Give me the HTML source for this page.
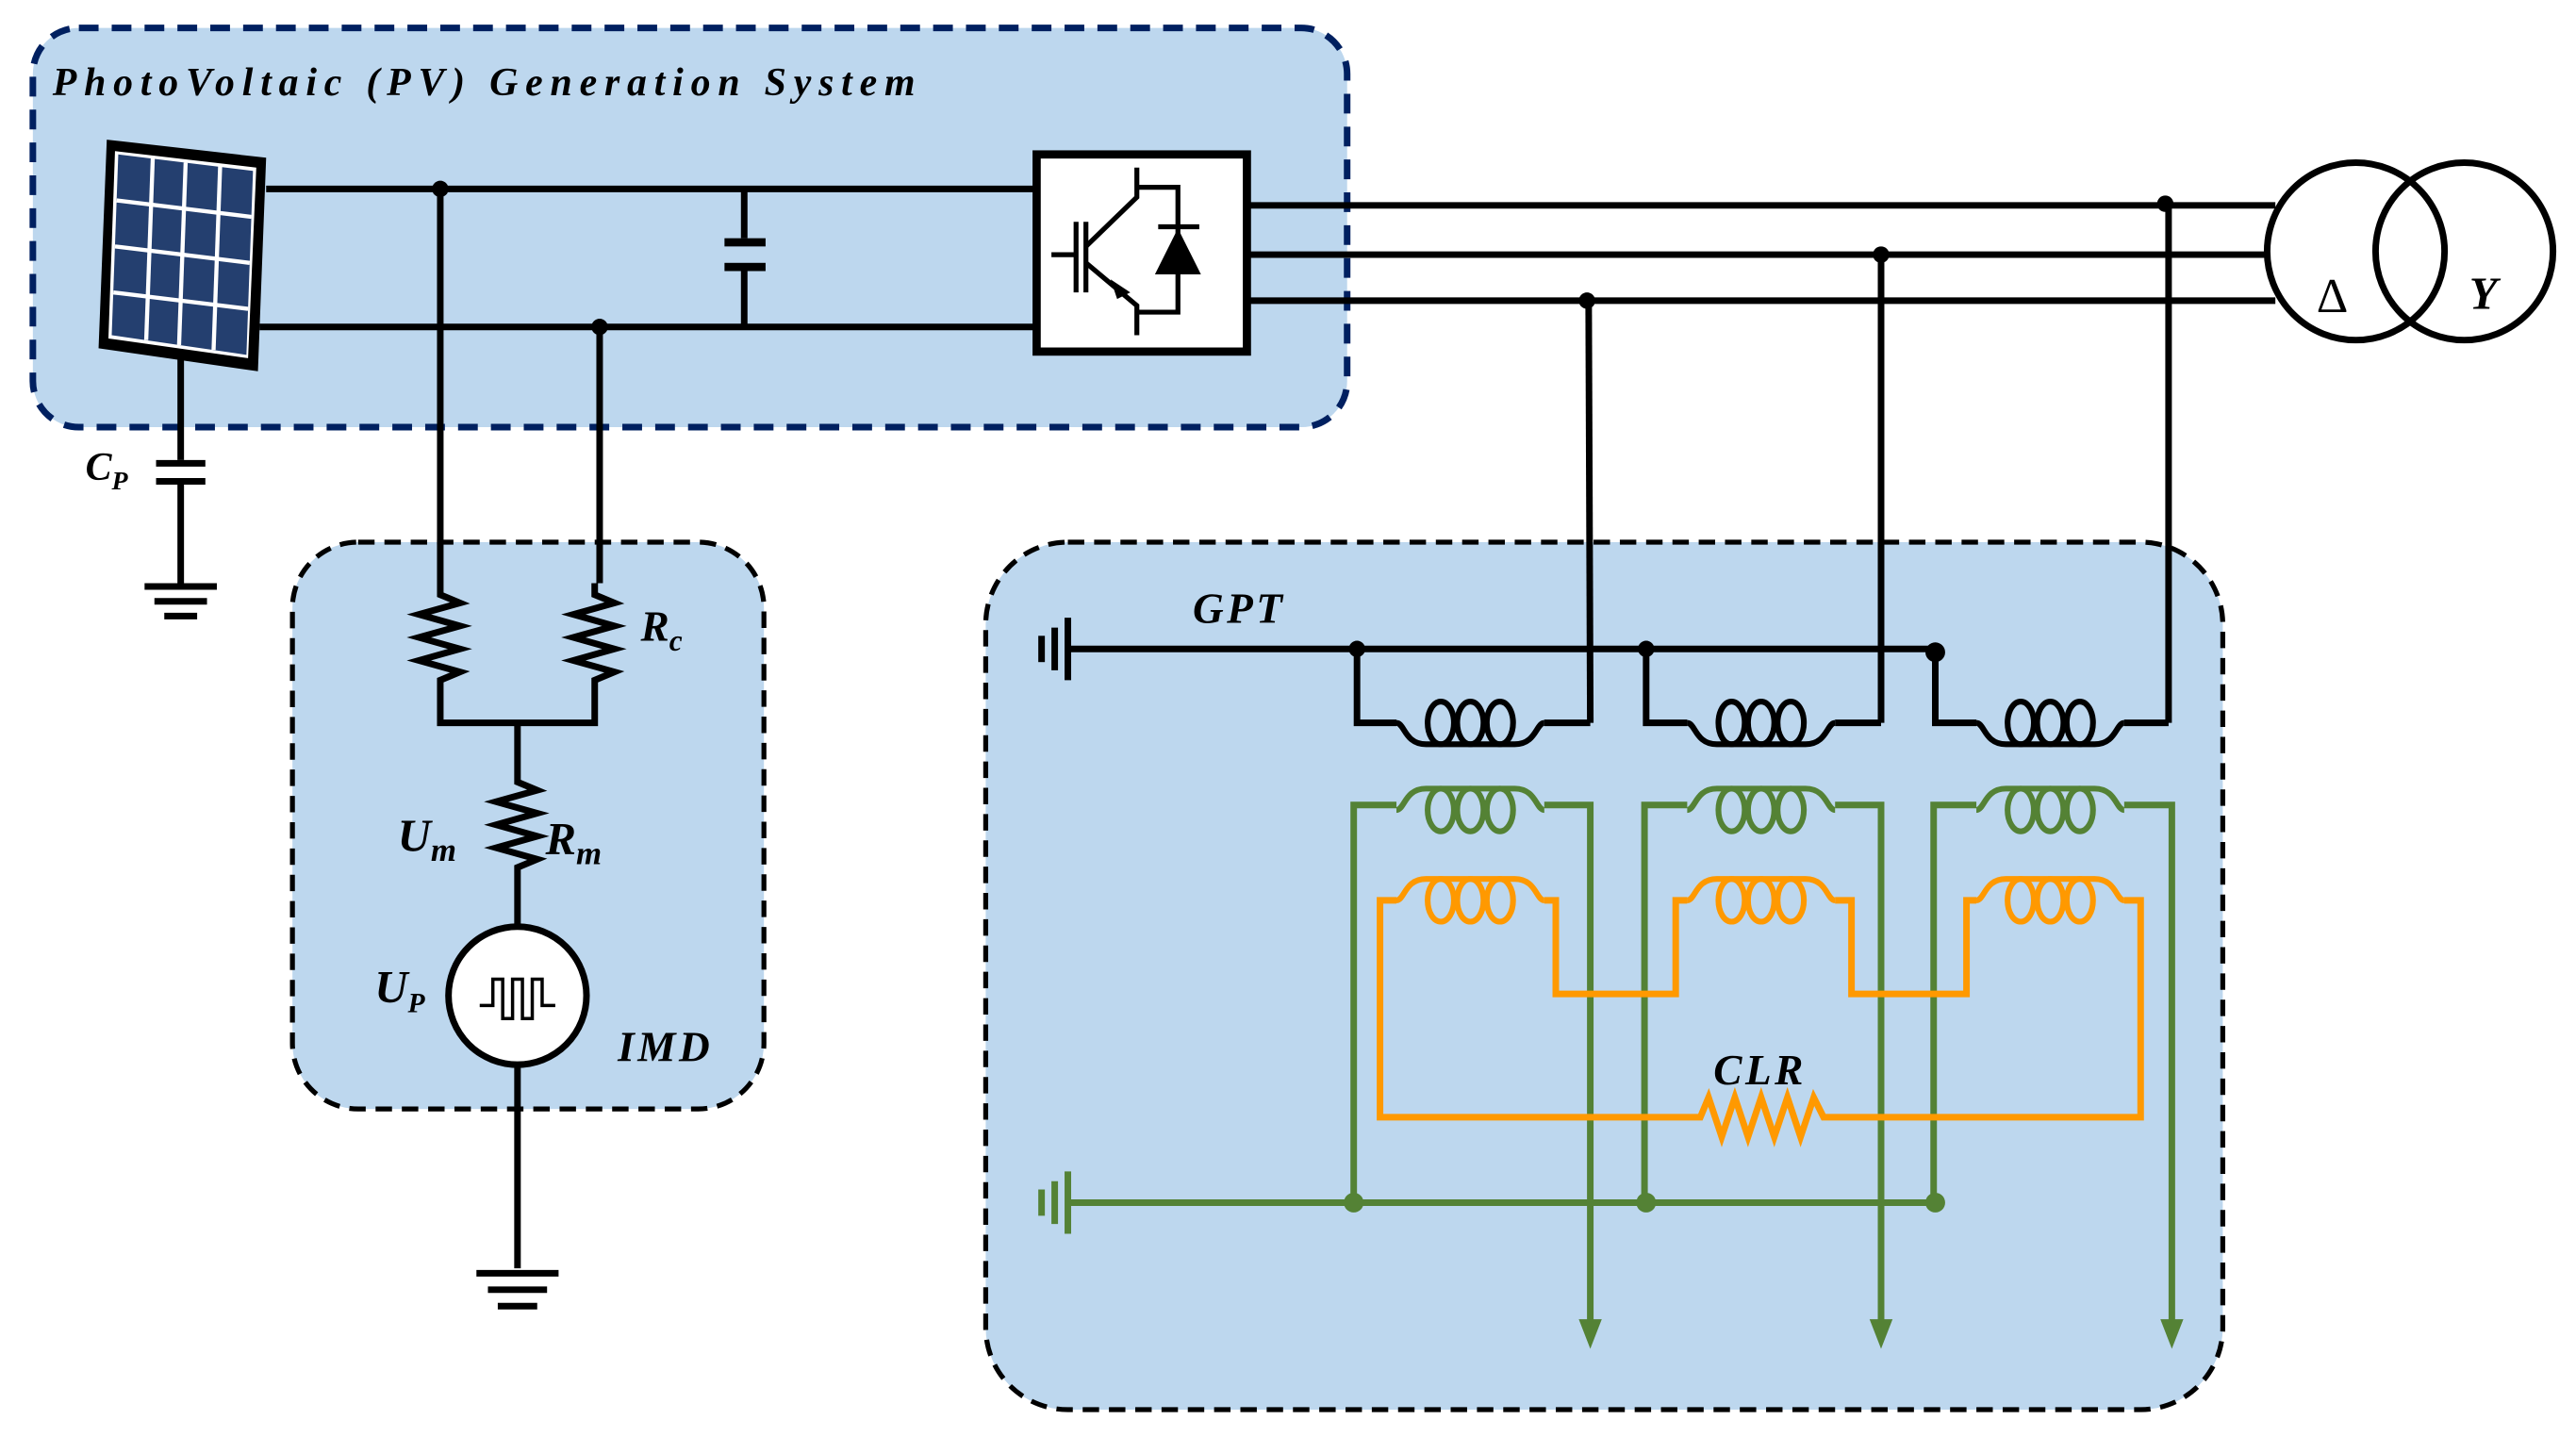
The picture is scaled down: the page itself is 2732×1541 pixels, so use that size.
<!DOCTYPE html>
<html><head><meta charset="utf-8"><style>html,body{margin:0;padding:0;background:#fff}svg{display:block}</style></head>
<body>
<svg width="2732" height="1541" viewBox="0 0 1568 884.4" preserveAspectRatio="none" xmlns="http://www.w3.org/2000/svg" font-family="'Liberation Serif', serif" font-style="italic" font-weight="bold">
<defs>
<g id="coilD">
<path d="M0,0 C5,0 5,13 18,13 L72,13 C85,13 85,0 90,0" fill="none"/>
<ellipse cx="27" cy="0" rx="8" ry="13"/><ellipse cx="45" cy="0" rx="8" ry="13"/><ellipse cx="63" cy="0" rx="8" ry="13"/>
</g>
<g id="coilU">
<path d="M0,0 C5,0 5,-13 18,-13 L72,-13 C85,-13 85,0 90,0" fill="none"/>
<ellipse cx="27" cy="0" rx="8" ry="13"/><ellipse cx="45" cy="0" rx="8" ry="13"/><ellipse cx="63" cy="0" rx="8" ry="13"/>
</g>
</defs>
<rect x="20" y="17" width="800" height="243" rx="28" fill="#bdd7ee" stroke="#002060" stroke-width="4" stroke-dasharray="12,8"/>
<rect x="178" y="330" width="287" height="345" rx="40" fill="#bdd7ee" stroke="#000" stroke-width="3" stroke-dasharray="10,6"/>
<rect x="600" y="330" width="753" height="528" rx="50" fill="#bdd7ee" stroke="#000" stroke-width="3" stroke-dasharray="10,6"/>
<text x="32" y="58" font-size="24" textLength="525" lengthAdjust="spacing">PhotoVoltaic (PV) Generation System</text>
<polygon points="65,85 162,96 157,226 60,212" fill="#000"/>
<polygon points="70,92 156,102 151,218 66,206" fill="#fff"/>
<polygon points="72,94 154,104 150,216 68,204" fill="#243f6f"/>
<g stroke="#fff" stroke-width="2.5">
<line x1="93" y1="96" x2="89" y2="207"/><line x1="113" y1="99" x2="109" y2="210"/><line x1="134" y1="101" x2="130" y2="213"/>
<line x1="71" y1="122" x2="153" y2="132"/><line x1="70" y1="150" x2="152" y2="160"/><line x1="69" y1="178" x2="151" y2="188"/>
</g>
<g stroke="#000" stroke-width="4" fill="none">
<line x1="162" y1="115" x2="630" y2="115"/><line x1="158" y1="199" x2="630" y2="199"/>
<line x1="268" y1="115" x2="268" y2="355"/><line x1="365" y1="199" x2="365" y2="355"/>
<line x1="453" y1="115" x2="453" y2="145"/><line x1="453" y1="165" x2="453" y2="199"/>
</g>
<rect x="441" y="145" width="25" height="5" fill="#000"/><rect x="441" y="160" width="25" height="5" fill="#000"/>
<circle cx="268" cy="115" r="5"/><circle cx="365" cy="199" r="5"/>
<rect x="631" y="94" width="128" height="120" fill="#fff" stroke="#000" stroke-width="5"/>
<g stroke="#000" stroke-width="3" fill="none">
<line x1="640" y1="155" x2="655" y2="155"/><line x1="655" y1="135" x2="655" y2="178"/><line x1="661" y1="135" x2="661" y2="178"/>
<path d="M692,102 L692,120 L661,150"/><path d="M661,160 L692,186 L692,204"/>
<path d="M692,114 L717,114 L717,190 L692,190"/>
<line x1="705" y1="138" x2="730" y2="138"/>
</g>
<polygon points="717,139 703,167 731,167" fill="#000"/>
<polygon points="676,170 688,178 680,182" fill="#000"/>
<g stroke="#000" stroke-width="4" fill="none">
<line x1="760" y1="125" x2="1385" y2="125"/><line x1="760" y1="155" x2="1380" y2="155"/><line x1="760" y1="183" x2="1385" y2="183"/>
<line x1="1320" y1="125" x2="1320" y2="440"/><line x1="1145" y1="155" x2="1145" y2="440"/><line x1="967" y1="183" x2="968" y2="440"/>
<circle cx="1434" cy="153" r="54" stroke-width="4"/><circle cx="1500" cy="153" r="54" stroke-width="4"/>
</g>
<circle cx="1318" cy="124" r="5"/><circle cx="1145" cy="155" r="5"/><circle cx="966" cy="183" r="5"/>
<text x="1410" y="190" font-size="30" font-style="normal" font-weight="normal">Δ</text>
<text x="1503" y="188" font-size="28">Y</text>
<g stroke="#000" stroke-width="4"><line x1="110" y1="218" x2="110" y2="280"/><line x1="110" y1="295" x2="110" y2="355"/>
<line x1="95" y1="282" x2="125" y2="282"/><line x1="95" y1="293" x2="125" y2="293"/>
<line x1="88" y1="357" x2="132" y2="357"/><line x1="94" y1="366" x2="126" y2="366"/><line x1="100" y1="375" x2="120" y2="375"/></g>
<text x="52" y="292" font-size="24">C<tspan font-size="16" dy="6">P</tspan></text>
<g stroke="#000" stroke-width="4" fill="none">
<path d="M268,355 L268,362 L280,367 L255,374 L280,381 L255,388 L280,395 L255,402 L280,409 L268,414 L268,440 L362,440 L362,414 L374,409 L349,402 L374,395 L349,388 L374,381 L349,374 L374,367 L362,362 L362,355"/>
<path d="M315,440 L315,476 L327,481 L302,488 L327,495 L302,502 L327,509 L302,516 L327,523 L315,528 L315,565"/>
<line x1="315" y1="647" x2="315" y2="772"/>
<line x1="290" y1="775" x2="340" y2="775"/><line x1="297" y1="785" x2="333" y2="785"/><line x1="303" y1="795" x2="327" y2="795"/>
</g>
<circle cx="315" cy="606" r="42" fill="#fff" stroke="#000" stroke-width="4"/>
<path d="M292,612 L300,612 L300,596 L306,596 L306,620 L312,620 L312,596 L318,596 L318,620 L324,620 L324,596 L330,596 L330,612 L338,612" fill="none" stroke="#000" stroke-width="2"/>
<text x="390" y="390" font-size="26">R<tspan font-size="18" dy="6">c</tspan></text>
<text x="242" y="518" font-size="28">U<tspan font-size="20" dy="6">m</tspan></text>
<text x="332" y="520" font-size="28">R<tspan font-size="20" dy="6">m</tspan></text>
<text x="228" y="610" font-size="28">U<tspan font-size="17" dy="6">P</tspan></text>
<text x="376" y="646" font-size="26" letter-spacing="2">IMD</text>
<text x="726" y="379" font-size="26" letter-spacing="2">GPT</text>
<g stroke="#000" stroke-width="4" fill="none">
<line x1="650" y1="395" x2="1180" y2="395"/>
<line x1="650" y1="376" x2="650" y2="414"/><line x1="642" y1="382" x2="642" y2="408"/><line x1="634" y1="387" x2="634" y2="403"/>
<path d="M826,395 L826,440 L850,440 M940,440 L968,440"/>
<path d="M1002,395 L1002,440 L1027,440 M1117,440 L1145,440"/>
<path d="M1178,395 L1178,440 L1203,440 M1293,440 L1320,440"/>
</g>
<g stroke="#000" stroke-width="3.5" fill="none">
<use href="#coilD" x="850" y="440"/><use href="#coilD" x="1027" y="440"/><use href="#coilD" x="1203" y="440"/>
</g>
<circle cx="826" cy="395" r="5"/><circle cx="1002" cy="395" r="5"/><circle cx="1178" cy="397" r="6"/>
<g stroke="#548235" stroke-width="4" fill="none">
<line x1="650" y1="732" x2="1178" y2="732"/>
<line x1="650" y1="713" x2="650" y2="751"/><line x1="642" y1="719" x2="642" y2="745"/><line x1="634" y1="724" x2="634" y2="740"/>
<path d="M824,732 L824,490 L850,490 M940,490 L968,490 L968,805"/>
<path d="M1001,732 L1001,490 L1027,490 M1117,490 L1145,490 L1145,805"/>
<path d="M1177,732 L1177,490 L1203,490 M1293,490 L1322,490 L1322,805"/>
</g>
<g stroke="#548235" stroke-width="3.5" fill="none">
<use href="#coilU" x="850" y="493"/><use href="#coilU" x="1027" y="493"/><use href="#coilU" x="1203" y="493"/>
</g>
<g fill="#548235">
<circle cx="824" cy="732" r="6"/><circle cx="1002" cy="732" r="6"/><circle cx="1178" cy="732" r="6"/>
<polygon points="961,803 975,803 968,821"/><polygon points="1138,803 1152,803 1145,821"/><polygon points="1315,803 1329,803 1322,821"/>
</g>
<g stroke="#ff9900" stroke-width="4" fill="none">
<path d="M850,548 L840,548 L840,680 L1035,680 L1040,668 L1048,692 L1056,668 L1064,692 L1072,668 L1080,692 L1088,668 L1096,692 L1104,668 L1110,680 L1303,680 L1303,548 L1293,548"/>
<path d="M940,548 L947,548 L947,605 L1020,605 L1020,548 L1027,548 M1117,548 L1127,548 L1127,605 L1197,605 L1197,548 L1203,548"/>
</g>
<g stroke="#ff9900" stroke-width="3.5" fill="none">
<use href="#coilU" x="850" y="548"/><use href="#coilU" x="1027" y="548"/><use href="#coilU" x="1203" y="548"/>
</g>
<text x="1043" y="660" font-size="26" letter-spacing="2">CLR</text>
</svg>
</body></html>
